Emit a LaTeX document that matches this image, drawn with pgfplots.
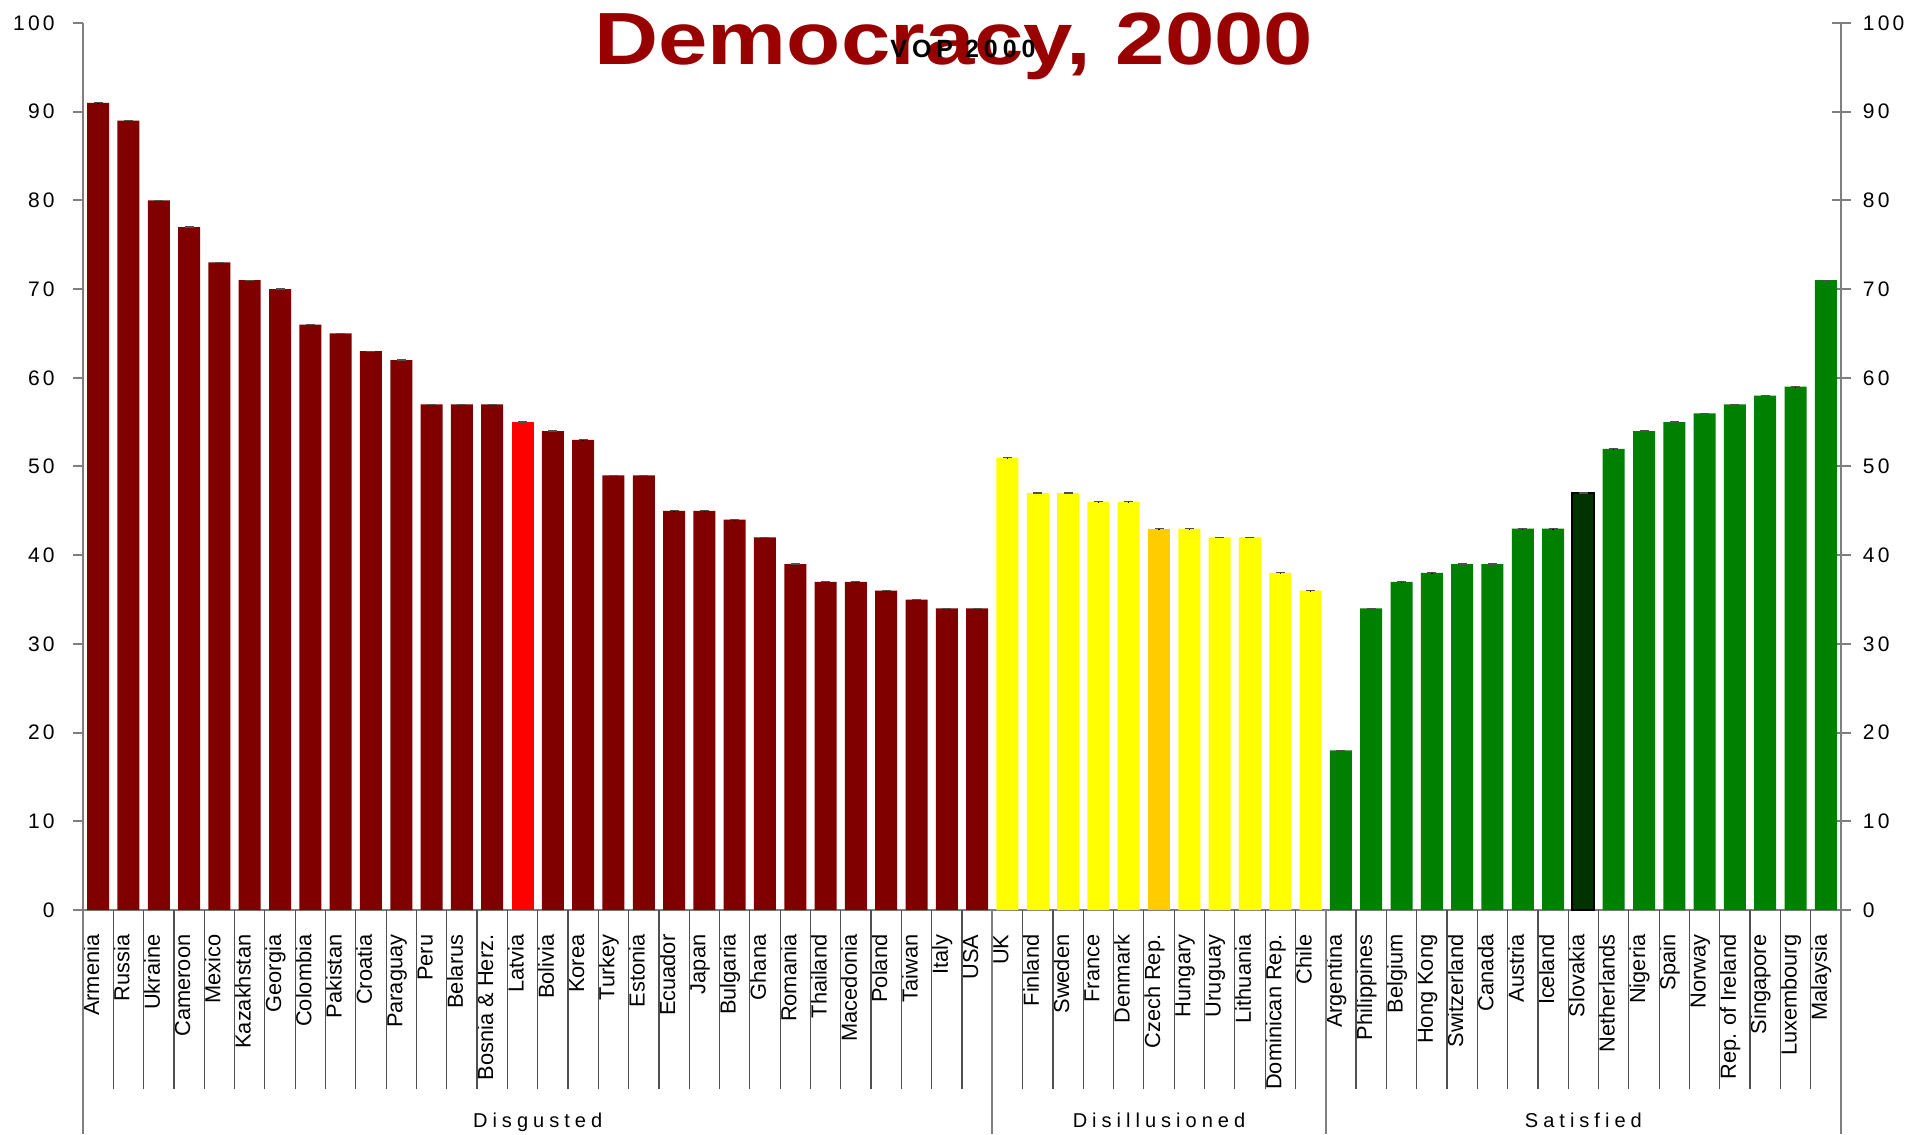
\documentclass[border=0pt]{standalone}
\usepackage{fontspec}
\setmainfont{Liberation Sans}
\newfontfamily\tickfont[LetterSpace=15]{Liberation Sans}
\newfontfamily\groupfont[LetterSpace=25]{Liberation Sans}
\newfontfamily\titlefont{Liberation Sans}
\newfontfamily\vopfont[LetterSpace=20]{Liberation Sans}
\usepackage{pgfplots}
\pgfplotsset{compat=1.18}
\definecolor{dred}{HTML}{800000}
\definecolor{lred}{HTML}{FF0000}
\definecolor{yel}{HTML}{FFFF00}
\definecolor{czech}{HTML}{FFCC00}
\definecolor{grn}{HTML}{008000}
\definecolor{slov}{HTML}{003300}
\definecolor{ttl}{HTML}{990000}
\definecolor{axgray}{HTML}{7F7F7F}
\definecolor{sepgray}{HTML}{505050}
\pgfplotsset{
  common/.style={width=175.8mm, height=88.7mm, scale only axis, at={(0,0)}, anchor=south west,
    xmin=-0.5, xmax=57.5, ymin=0, ymax=100},
  eb/.style={error bars/.cd, y dir=plus, y fixed=0.01,
    error bar style={draw=none},
    error mark=|, error mark options={draw=sepgray, line width=0.12mm, mark size=0.45mm}},
}
\begin{document}
\begin{tikzpicture}
\useasboundingbox (-8.3mm,-22.4mm) rectangle (183.1mm,91.0mm);
% left y axis
\begin{axis}[common, axis x line=none, axis y line*=left,
  axis line style={axgray, line width=0.2mm}, ytick={0,10,...,100},
  tick align=outside, major tick length=1mm, y tick style={axgray, line width=0.2mm},
  yticklabel style={font=\tickfont\fontsize{5.98}{6}\selectfont, xshift=-0.6mm},
  /pgf/number format/assume math mode=true, xtick=\empty]
\addplot[draw=none] coordinates {(0,0)};
\end{axis}
% right y axis
\begin{axis}[common, axis x line=none, axis y line*=right,
  axis line style={axgray, line width=0.2mm}, ytick={0,10,...,100},
  tick align=center, major tick length=1.9mm, y tick style={axgray, line width=0.2mm},
  yticklabel style={font=\tickfont\fontsize{5.98}{6}\selectfont},
  /pgf/number format/assume math mode=true, xtick=\empty]
\addplot[draw=none] coordinates {(0,0)};
\end{axis}
% data
\begin{axis}[common, axis x line*=bottom, axis y line=none,
  axis line style={axgray, line width=0.2mm}, ytick=\empty,
  tick align=inside, x tick style={draw=none},
  ybar, bar width=2.2mm, clip=false,
  xtick={0,...,57},
  xticklabels={Armenia,Russia,Ukraine,Cameroon,Mexico,Kazakhstan,Georgia,Colombia,Pakistan,Croatia,Paraguay,Peru,Belarus,Bosnia \& Herz.,Latvia,Bolivia,Korea,Turkey,Estonia,Ecuador,Japan,Bulgaria,Ghana,Romania,Thailand,Macedonia,Poland,Taiwan,Italy,USA,UK,Finland,Sweden,France,Denmark,Czech Rep.,Hungary,Uruguay,Lithuania,Dominican Rep.,Chile,Argentina,Philippines,Belgium,Hong Kong,Switzerland,Canada,Austria,Iceland,Slovakia,Netherlands,Nigeria,Spain,Norway,Rep. of Ireland,Singapore,Luxembourg,Malaysia},
  xticklabel style={font=\fontsize{6.2}{6.5}\selectfont, xshift=0.1mm, yshift=-0.9mm, rotate=90, anchor=base east, inner sep=0pt},
]
\addplot[fill=dred, draw=none, bar shift=0pt, eb] coordinates {
(0,91) (1,89) (2,80) (3,77) (4,73) (5,71) (6,70) (7,66) (8,65) (9,63)
(10,62) (11,57) (12,57) (13,57) (15,54) (16,53) (17,49) (18,49) (19,45)
(20,45) (21,44) (22,42) (23,39) (24,37) (25,37) (26,36) (27,35) (28,34) (29,34)};
\addplot[fill=lred, draw=none, bar shift=0pt, eb] coordinates {(14,55)};
\addplot[fill=yel, draw=none, bar shift=0pt, eb] coordinates {
(30,51) (31,47) (32,47) (33,46) (34,46) (36,43) (37,42) (38,42) (39,38) (40,36)};
\addplot[fill=czech, draw=none, bar shift=0pt, eb] coordinates {(35,43)};
\addplot[fill=grn, draw=none, bar shift=0pt, eb] coordinates {
(41,18) (42,34) (43,37) (44,38) (45,39) (46,39) (47,43) (48,43)
(50,52) (51,54) (52,55) (53,56) (54,57) (55,58) (56,59) (57,71)};
\addplot[fill=slov, draw=black, line width=0.2mm, bar shift=0pt, eb] coordinates {(49,47)};
% category separators
\pgfplotsinvokeforeach{0,...,56}{
  \draw[sepgray, line width=0.12mm] (axis cs:#1.5,0) -- ([yshift=-17.9mm]axis cs:#1.5,0);
}
\pgfplotsinvokeforeach{-0.5,29.5,40.5,57.5}{
  \draw[axgray, line width=0.2mm] (axis cs:#1,0) -- ([yshift=-22.4mm]axis cs:#1,0);
}
\node[font=\groupfont\fontsize{5.7}{6}\selectfont, anchor=base] at ([yshift=-21.7mm]axis cs:14.5,0) {Disgusted};
\node[font=\groupfont\fontsize{5.7}{6}\selectfont, anchor=base] at ([yshift=-21.7mm]axis cs:35,0) {Disillusioned};
\node[font=\groupfont\fontsize{5.7}{6}\selectfont, anchor=base] at ([yshift=-21.7mm]axis cs:49,0) {Satisfied};
\end{axis}
\node[anchor=base, inner sep=0pt, text=ttl, xscale=1.2, font=\titlefont\bfseries\fontsize{21.05}{22}\selectfont] at (87.1mm,84.5mm) {Democracy, 2000};
\node[anchor=base, inner sep=0pt, text=black, font=\vopfont\bfseries\fontsize{7.1}{8}\selectfont] at (88.0mm,85.2mm) {VOP 2000};
\end{tikzpicture}
\end{document}
